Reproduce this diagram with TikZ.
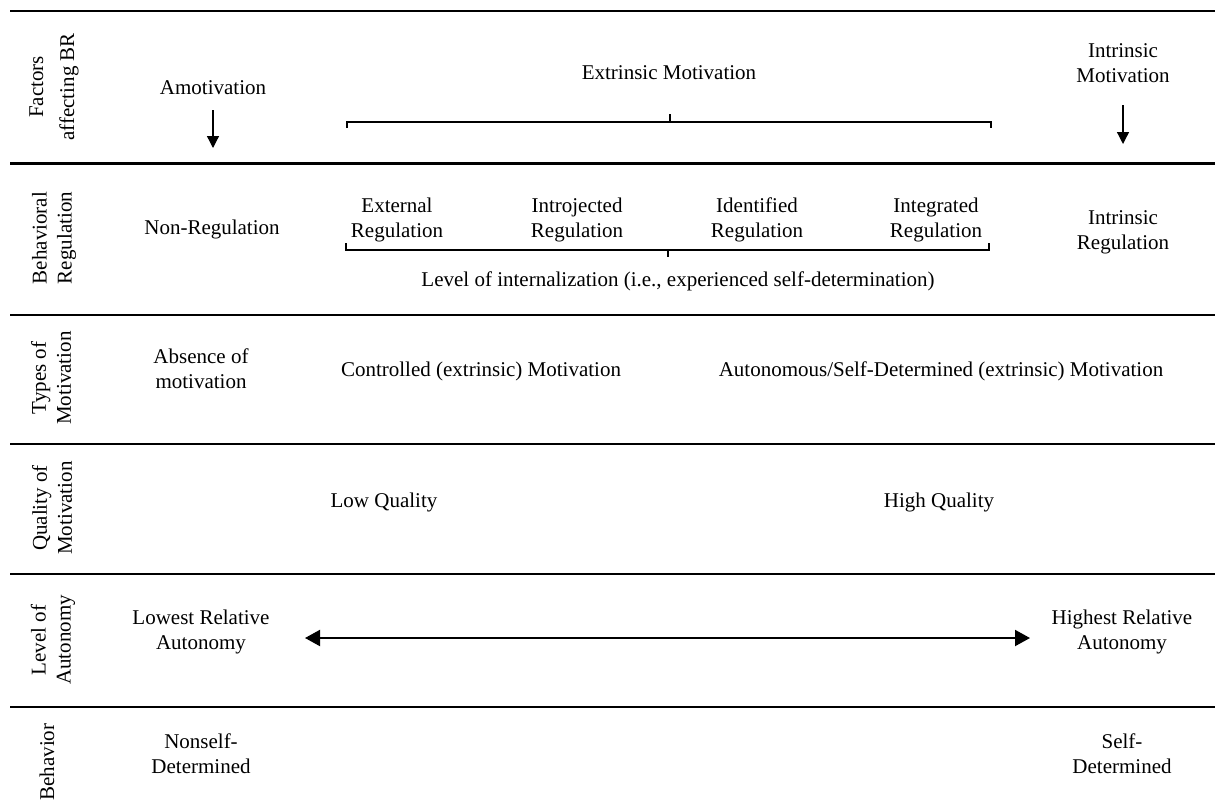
\documentclass[tikz,border=0pt]{standalone}
\usepackage{fontspec}
\setmainfont{Liberation Serif}
\usetikzlibrary{arrows.meta}
\begin{document}
\begin{tikzpicture}[x=1pt, y=-1pt,
  every node/.style={font=\fontsize{21}{25}\selectfont, inner sep=0pt, align=center},
  rule/.style={line width=2.4pt},
  rowlabel/.style={rotate=90},
  brace/.style={line width=1.3pt},
  downarrow/.style={line width=1.3pt, -{Triangle[length=12pt,width=12pt]}},
  spanarrow/.style={line width=2pt, {Triangle[length=15pt,width=16pt]}-{Triangle[length=15pt,width=16pt]}}]
\useasboundingbox[fill=white] (0,0) rectangle (1215,811);

% horizontal rules separating the rows
\foreach \ry in {11,163.5,315,444,574,707}
  \draw[rule] (10,\ry) -- (1215,\ry);

% row headings
\node[rowlabel] (lbF)  at (54,87)  {Factors\\[6pt]affecting BR};
\node[rowlabel] (lbB)  at (54,238) {Behavioral\\Regulation};
\node[rowlabel] (lbT)  at (51,378) {Types of\\Motivation};
\node[rowlabel] (lbQ)  at (52,508) {Quality of\\Motivation};
\node[rowlabel] (lbL)  at (53,640) {Level of\\Autonomy};
\node[rowlabel] (lbBe) at (47,762) {Behavior};

% factors affecting behavioral regulation
\node[anchor=base] (amot) at (213,94) {Amotivation};
\node[anchor=base] (extr) at (669,79) {Extrinsic Motivation};
\node (intr) at (1123,63.5) {Intrinsic\\Motivation};
\coordinate (amotEnd) at (213,148);
\coordinate (intrEnd) at (1123,144);
\draw[downarrow] (amot.south) ++(0,16) -- (amotEnd);
\draw[downarrow] (intr.south) ++(0,22) -- (intrEnd);
\draw[brace] (347,128) -- (347,122) -- (991,122) -- (991,128);
\draw[brace] (670,122) -- (670,114);

% behavioral regulation
\node[anchor=base] (nonreg) at (212,234) {Non-Regulation};
\node (ext)    at (397,220)   {External\\Regulation};
\node (intro)  at (577,220)   {Introjected\\Regulation};
\node (ident)  at (757,220)   {Identified\\Regulation};
\node (integ)  at (936,220)   {Integrated\\Regulation};
\node (intreg) at (1123,232.5) {Intrinsic\\Regulation};
\draw[brace] (346,243) -- (346,250) -- (989,250) -- (989,243);
\draw[brace] (668,250) -- (668,257);
\node[anchor=base] (level) at (678,286) {Level of internalization (i.e., experienced self-determination)};

% types of motivation
\node (absence) at (201,368.5) {Absence of\\motivation};
\node[anchor=base] (ctrl) at (481,376) {Controlled (extrinsic) Motivation};
\node[anchor=base] (auto) at (941,376) {Autonomous/Self-Determined (extrinsic) Motivation};

% quality of motivation
\node[anchor=base] (lowq)  at (384,507) {Low Quality};
\node[anchor=base] (highq) at (939,507) {High Quality};

% level of autonomy
\node (lowaut)  at (201,631.7)  {Lowest Relative\\Autonomy};
\node (highaut) at (1122,631.7) {Highest Relative\\Autonomy};
\coordinate (spanL) at (305,638);
\coordinate (spanR) at (1030,638);
\draw[spanarrow] (spanL) -- (spanR);

% behavior
\node (nonself) at (201,753.5)  {Nonself-\\Determined};
\node (selfdet) at (1122,753.5) {Self-\\Determined};
\end{tikzpicture}
\end{document}
